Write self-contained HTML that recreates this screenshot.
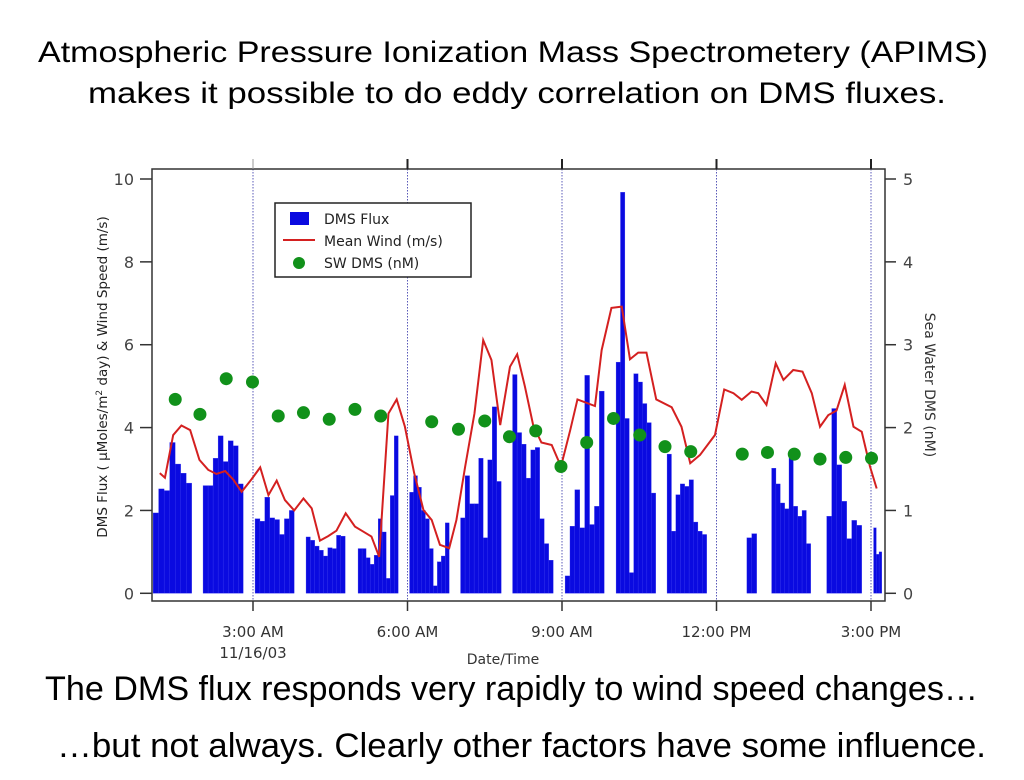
<!DOCTYPE html>
<html><head><meta charset="utf-8">
<style>
body{margin:0;background:#fff;width:1024px;height:780px;overflow:hidden;font-family:"Liberation Sans",sans-serif;}
</style></head>
<body>
<svg id="chart" width="1024" height="780" style="position:absolute;left:0;top:0" xmlns="http://www.w3.org/2000/svg">
<text x="38" y="62" font-family="Liberation Sans, sans-serif" font-size="30" textLength="950" lengthAdjust="spacingAndGlyphs">Atmospheric Pressure Ionization Mass Spectrometery (APIMS)</text>
<text x="88" y="103" font-family="Liberation Sans, sans-serif" font-size="30" textLength="858" lengthAdjust="spacingAndGlyphs">makes it possible to do eddy correlation on DMS fluxes.</text>
<text x="45" y="700" font-family="Liberation Sans, sans-serif" font-size="34" textLength="933" lengthAdjust="spacingAndGlyphs">The DMS flux responds very rapidly to wind speed changes…</text>
<text x="57" y="757" font-family="Liberation Sans, sans-serif" font-size="34" textLength="929" lengthAdjust="spacingAndGlyphs">…but not always. Clearly other factors have some influence.</text>
</svg>
<script>
const groupStarts=[1.06,2.03,3.04,4.03,5.04,6.04,7.03,8.04,9.06,10.05,11.04,12.59,13.07,14.14,15.05];
const groupEnds=[1.81,2.81,3.80,4.79,5.82,6.81,7.82,8.83,9.82,10.82,11.81,12.78,13.83,14.82,15.21];
const fluxValues=[
[1.94,2.52,2.48,3.64,3.12,2.9,2.66],
[2.6,2.6,3.26,3.8,3.18,3.68,3.56,2.64],
[1.8,1.74,2.32,1.82,1.78,1.42,1.8,2.0],
[1.36,1.28,1.14,1.04,0.9,1.1,1.08,1.4,1.38],
[1.08,1.08,0.86,0.7,0.92,1.8,1.48,0.36,2.36,3.8],
[2.44,2.84,2.56,2.0,1.8,1.08,0.18,0.76,0.9,1.7],
[1.82,2.84,2.16,2.16,3.26,1.34,3.22,4.5,2.7],
[5.28,3.88,3.6,2.78,3.46,3.52,1.8,1.2,0.8],
[0.42,1.62,2.5,1.58,5.26,1.66,2.1,4.88],
[5.58,9.68,4.22,0.5,5.3,5.1,4.58,4.12,2.42],
[3.36,1.5,2.38,2.64,2.58,2.74,1.72,1.5,1.42],
[1.34,1.44],
[3.02,2.64,2.18,2.04,3.36,2.1,1.86,2.0,1.2],
[1.86,4.46,3.1,2.22,1.32,1.76,1.64],
[1.58,0.94,1.0]];
const windTimes=[1.19,1.29,1.45,1.61,1.78,1.96,2.13,2.29,2.46,2.62,2.78,2.97,3.14,3.30,3.46,3.62,3.80,3.98,4.14,4.30,4.46,4.62,4.80,4.98,5.14,5.30,5.45,5.63,5.79,5.95,6.13,6.31,6.47,6.63,6.81,6.95,7.12,7.30,7.47,7.63,7.80,7.99,8.13,8.28,8.44,8.60,8.80,8.98,9.16,9.30,9.64,9.77,9.96,10.16,10.32,10.48,10.64,10.83,11.13,11.32,11.49,11.68,11.97,12.15,12.33,12.49,12.68,12.81,12.97,13.15,13.30,13.49,13.67,13.85,14.01,14.17,14.33,14.49,14.66,14.82,14.98,15.11];
const windValues=[2.90,2.79,3.82,4.05,3.94,3.22,2.98,2.88,2.95,2.74,2.45,2.75,3.04,2.37,2.72,2.25,2.00,2.29,2.05,1.27,1.38,1.51,1.93,1.61,1.49,1.37,0.88,4.34,4.68,4.02,2.90,2.01,1.77,1.17,1.09,1.77,3.06,4.34,6.11,5.63,4.06,5.47,5.77,4.99,4.06,3.64,3.58,3.06,3.94,4.68,4.52,5.87,6.89,6.92,5.65,5.81,5.81,4.68,4.49,4.02,3.14,3.34,3.82,4.92,4.83,4.67,4.87,4.83,4.55,5.55,5.15,5.39,5.35,4.83,4.02,4.30,4.41,5.03,4.02,3.90,3.06,2.53];
const dmsTimes=[1.49,1.97,2.48,2.99,3.49,3.98,4.48,4.98,5.48,6.47,6.99,7.50,7.98,8.49,8.98,9.48,10.0,10.51,11.0,11.50,12.50,12.99,13.51,14.01,14.51,15.01];
const dmsValues=[2.34,2.16,2.59,2.55,2.14,2.18,2.10,2.22,2.14,2.07,1.98,2.08,1.89,1.96,1.53,1.82,2.11,1.91,1.77,1.71,1.68,1.70,1.68,1.62,1.64,1.63];
const leftTicks=[0,2,4,6,8,10];
const rightTicks=[0,1,2,3,4,5];
const xTickHours=[3,6,9,12,15];
const xTickLabels=["3:00 AM","6:00 AM","9:00 AM","12:00 PM","3:00 PM"];

const L=152,R=885,T=169,B=601;
const x=h=>253+(h-3)*51.5;
const yL=v=>593.3-v*41.43;
const yR=v=>593.3-v*82.86;
const NS="http://www.w3.org/2000/svg";
const svg=document.getElementById('chart');
const FF='DejaVu Sans, sans-serif';
function mk(tag,attrs,parent){const e=document.createElementNS(NS,tag);for(const k in attrs)e.setAttribute(k,attrs[k]);(parent||svg).appendChild(e);return e;}
function txt(s,attrs){const e=mk('text',Object.assign({'font-family':FF,'font-size':14,fill:'#333'},attrs));e.textContent=s;return e;}

xTickHours.forEach((h,i)=>{
  const g=mk('line',{x1:x(h),x2:x(h),y1:T,y2:B,stroke:'#5a5ab8','stroke-width':1,'stroke-dasharray':'1.5,1.5'});
  
  
});
fluxValues.forEach((vals,g)=>{
  const w=(groupEnds[g]-groupStarts[g])/vals.length;
  vals.forEach((v,i)=>{
    const x0=x(groupStarts[g]+i*w),x1=Math.min(x(groupStarts[g]+(i+1)*w),R);
    const r=mk('rect',{x:x0,y:yL(v),width:Math.max(0,x1-x0),height:yL(0)-yL(v),fill:'#0a0ae0',stroke:'#3a3af0','stroke-width':0.3});
    
    
  });
});
const wl=mk('polyline',{points:windTimes.map((t,i)=>x(t)+','+yL(windValues[i])).join(' '),fill:'none',stroke:'#d42020','stroke-width':2});


dmsTimes.forEach((t,i)=>{
  const c=mk('circle',{cx:x(t),cy:yR(dmsValues[i]),r:6.5,fill:'#11911a'});
  
  
});
const fr=mk('rect',{x:L,y:T,width:R-L,height:B-T,fill:'none',stroke:'#333','stroke-width':1.5});


leftTicks.forEach(v=>{
  mk('line',{x1:140,x2:L,y1:yL(v),y2:yL(v),stroke:'#333','stroke-width':1.5});
  const t=txt(String(v),{x:134,y:yL(v)+6,'text-anchor':'end','font-size':16,fill:'#444'});
  
  
});
rightTicks.forEach(v=>{
  mk('line',{x1:R,x2:R+11,y1:yR(v),y2:yR(v),stroke:'#333','stroke-width':1.5});
  const t=txt(String(v),{x:903,y:yR(v)+6,'font-size':16,fill:'#444'});
  
  
});
xTickHours.forEach((h,i)=>{
  mk('line',{x1:x(h),x2:x(h),y1:B,y2:B+10,stroke:'#333','stroke-width':1.5});
  mk('line',{x1:x(h),x2:x(h),y1:T-10,y2:T,stroke:i==0?'#999':'#222','stroke-width':i==0?1:2});
  const t=txt(xTickLabels[i],{x:x(h),y:637,'text-anchor':'middle','font-size':15});
  
  
});
const dl=txt('11/16/03',{x:253,y:658,'text-anchor':'middle','font-size':15});


const xl=txt('Date/Time',{x:503,y:664,'text-anchor':'middle','font-size':14});


const yl=mk('text',{x:0,y:0,transform:'translate(107,377) rotate(-90)','text-anchor':'middle','font-family':FF,'font-size':13.5,fill:'#222'});
yl.innerHTML='DMS Flux ( µMoles/m<tspan dy="-5" font-size="9">2</tspan><tspan dy="5"> day) &amp; Wind Speed (m/s)</tspan>';


const yr=txt('Sea Water DMS (nM)',{x:0,y:0,transform:'translate(925,385) rotate(90)','text-anchor':'middle','font-size':14});


const lg=mk('g',{});


mk('rect',{x:275,y:203,width:196,height:74,fill:'#fff',stroke:'#222','stroke-width':1.5},lg);
mk('rect',{x:290,y:212,width:19,height:13,fill:'#0a0ae0'},lg);
mk('line',{x1:283,x2:315,y1:240,y2:240,stroke:'#d42020','stroke-width':2},lg);
mk('circle',{cx:299,cy:263,r:6,fill:'#11911a'},lg);
[['DMS Flux',224],['Mean Wind (m/s)',246],['SW DMS (nM)',268]].forEach(([s,yy])=>{
  const e=document.createElementNS(NS,'text');
  e.setAttribute('x',324);e.setAttribute('y',yy);e.setAttribute('font-family',FF);e.setAttribute('font-size',14);e.setAttribute('fill','#222');
  e.textContent=s;lg.appendChild(e);
  
  
});
</script>
</body></html>
